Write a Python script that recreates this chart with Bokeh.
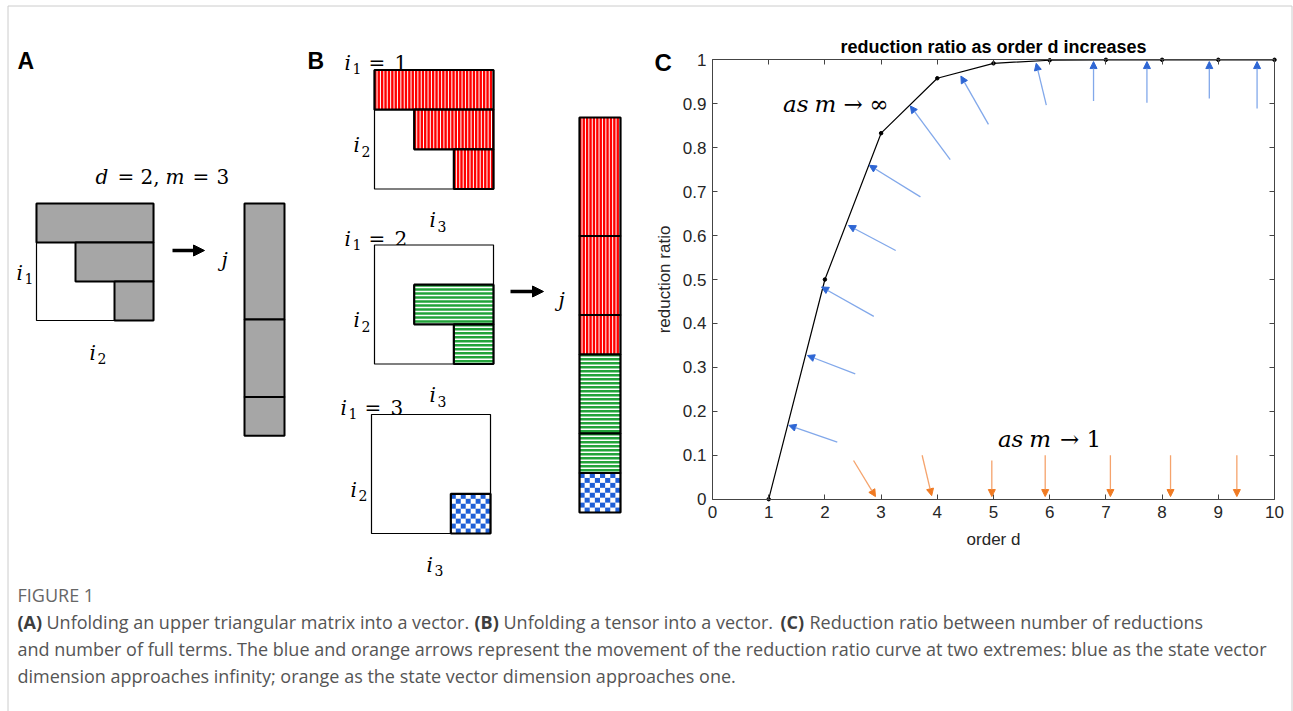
import numpy as np
from bokeh.plotting import figure
from bokeh.models import (Range1d, LinearAxis, FixedTicker, CustomJSTickFormatter,
                          Arrow, NormalHead, ColumnDataSource)
from bokeh.core.properties import value
from bokeh.embed import file_html
from bokeh.resources import INLINE

# ---------------- data: panel C ----------------
order_d = [1, 2, 3, 4, 5, 6, 7, 8, 9, 10]
reduction_ratio = [0.0, 0.5, 0.833, 0.958, 0.992, 0.999, 1.0, 1.0, 1.0, 1.0]
x_ticks = [0, 1, 2, 3, 4, 5, 6, 7, 8, 9, 10]
y_ticks = [0, 0.1, 0.2, 0.3, 0.4, 0.5, 0.6, 0.7, 0.8, 0.9, 1.0]

blue_x_start = [2.22, 2.54, 2.87, 3.26, 3.70, 4.23, 4.91, 5.94, 6.78, 7.73, 8.84, 9.69]
blue_y_start = [0.130, 0.285, 0.416, 0.566, 0.688, 0.773, 0.853, 0.897, 0.906, 0.902, 0.912, 0.889]
blue_x_end = [1.36, 1.69, 1.94, 2.42, 2.79, 3.52, 4.42, 5.76, 6.78, 7.73, 8.84, 9.69]
blue_y_end = [0.168, 0.327, 0.483, 0.623, 0.760, 0.895, 0.963, 0.992, 0.996, 0.996, 0.996, 0.996]

orange_x_start = [2.51, 3.73, 4.97, 5.92, 7.08, 8.15, 9.33]
orange_y_start = [0.088, 0.100, 0.088, 0.100, 0.100, 0.100, 0.100]
orange_x_end = [2.90, 3.90, 4.97, 5.92, 7.08, 8.15, 9.33]
orange_y_end = [0.006, 0.008, 0.006, 0.006, 0.006, 0.006, 0.006]

chart_title = "reduction ratio as order d increases"
x_label = "order d"
y_label = "reduction ratio"

# ---------------- data: panels A and B ----------------
a_row_cells = [3, 2, 1]                                  # d=2, m=3 upper triangle
b_slice_rows = [[3, 2, 1], [0, 2, 1], [0, 0, 1]]         # tensor slices i1 = 1,2,3
b_slice_names = ["1", "2", "3"]
b_colors = ["#ff0000", "#22a33a", "#1f5fd6"]

caption_head = "FIGURE 1"
caption_line1 = [("(A)", True), ("Unfolding an upper triangular matrix into a vector.", False),
                 ("(B)", True), ("Unfolding a tensor into a vector.", False),
                 ("(C)", True), ("Reduction ratio between number of reductions", False)]
caption_line2 = ("and number of full terms. The blue and orange arrows represent the movement "
                 "of the reduction ratio curve at two extremes: blue as the state vector")
caption_line3 = "dimension approaches infinity; orange as the state vector dimension approaches one."

MATH = "DejaVu Serif"
SANS = "Liberation Sans"
FRAME = "#cccccc"
W, H = 1293, 711

# panel C placement on the page (pixels)
C_X0, C_XUNIT = 712.0, 56.2      # page x of d=0, pixels per unit
C_Y0, C_YUNIT = 498.7, 439.4     # page y of ratio=0, pixels per unit

p = figure(width=W, height=H, x_range=Range1d(0, W), y_range=Range1d(H, 0),
           toolbar_location=None, output_backend="svg", min_border=0,
           x_axis_location=None, y_axis_location=None, outline_line_color=None,
           background_fill_color="white", border_fill_color="white")
p.grid.visible = False
p.extra_x_ranges = {"cx": Range1d(start=-C_X0 / C_XUNIT, end=(W - C_X0) / C_XUNIT)}
p.extra_y_ranges = {"cy": Range1d(start=(C_Y0 - H) / C_YUNIT, end=C_Y0 / C_YUNIT)}
CR = dict(x_range_name="cx", y_range_name="cy")


def txt(x, y, s, size, style="normal", font=MATH, color="black", align="left",
        baseline="alphabetic", **kw):
    p.text(x=[x], y=[y], text=[s], text_font=value(font), text_font_size=f"{size}px",
           text_font_style=style, text_color=color, text_align=align, text_baseline=baseline, **kw)


def ivar(x, y, sub, size=20):
    txt(x, y, "i", size, "italic")
    txt(x + 8, y + 6, sub, 14)


def box(l, r, t, b, fill=None, lw=1.2):
    p.quad(left=[l], right=[r], top=[t], bottom=[b], fill_color=fill,
           line_color="black", line_width=lw)


def vstripes(l, r, t, b, period=3.4):
    xs = np.arange(l + period * 0.75, r - 0.5, period)
    p.segment(x0=xs, x1=xs, y0=[t] * len(xs), y1=[b] * len(xs), line_color="white", line_width=1.0)


def hstripes(l, r, t, b, period=4.0):
    ys = np.arange(t + period * 0.7, b - 0.5, period)
    p.segment(x0=[l] * len(ys), x1=[r] * len(ys), y0=ys, y1=ys, line_color="white", line_width=1.5)


def checker(l, r, t, b, color, n=8):
    cw = (r - l) / n
    ch = (b - t) / n
    L, R, T, B = [], [], [], []
    for i in range(n):
        for j in range(n):
            if (i + j) % 2 == 0:
                L.append(l + i * cw); R.append(l + (i + 1) * cw)
                T.append(t + j * ch); B.append(t + (j + 1) * ch)
    p.quad(left=L, right=R, top=T, bottom=B, fill_color=color, line_color=None)


def hatched(l, r, t, b, k, lw=2.2):
    if k == 0:
        p.quad(left=[l], right=[r], top=[t], bottom=[b], fill_color=b_colors[0], line_color=None)
        vstripes(l, r, t, b)
    elif k == 1:
        p.quad(left=[l], right=[r], top=[t], bottom=[b], fill_color=b_colors[1], line_color=None)
        hstripes(l, r, t, b)
    else:
        p.quad(left=[l], right=[r], top=[t], bottom=[b], fill_color="white", line_color=None)
        checker(l, r, t, b, b_colors[2])
    box(l, r, t, b, None, lw)


# ================= card frame =================
p.segment(x0=[7.5, 7.5, 1291.5], y0=[5.5, 5.5, 5.5], x1=[1291.5, 7.5, 1291.5], y1=[5.5, H, H],
          line_color=FRAME, line_width=1)

# ================= panel labels =================
txt(17, 60, "A", 23, "bold", SANS)
txt(307, 60, "B", 23, "bold", SANS)
txt(654, 62, "C", 24, "bold", SANS)

# ================= panel A =================
for s, x, st in [("d", 95, "italic"), ("=", 117, "normal"), ("2,", 140, "normal"),
                 ("m", 165, "italic"), ("=", 192, "normal"), ("3", 216, "normal")]:
    txt(x, 176, s, 20, st)

ax0, ay0, acell = 36.0, 203.0, 39.0
n_a = len(a_row_cells)
box(ax0, ax0 + n_a * acell, ay0, ay0 + n_a * acell, "white", 1.2)
for r, n in enumerate(a_row_cells):
    box(ax0 + (n_a - n) * acell, ax0 + n_a * acell, ay0 + r * acell, ay0 + (r + 1) * acell,
        "#a6a6a6", 2.0)
ivar(16, 272, "1")
ivar(89, 352, "2")

p.add_layout(Arrow(end=NormalHead(size=11, fill_color="black", line_color="black"),
                   x_start=172, y_start=250, x_end=204, y_end=250, line_width=3.5, line_color="black"))
txt(221, 259, "j", 20, "italic")

vx0, vy, vcell = 244.0, 203.0, 38.7
for n in a_row_cells:
    box(vx0, vx0 + 40, vy, vy + n * vcell, "#a6a6a6", 2.0)
    vy += n * vcell

# ================= panel B =================
b_origins = [(374.0, 69.5), (374.0, 244.5), (371.0, 414.0)]
b_label_y = [62, 238, 407]
b_label_x = [344, 344, 340]
bcell = 39.67
for k, rows in enumerate(b_slice_rows):
    ox, oy = b_origins[k]
    lx, ly = b_label_x[k], b_label_y[k]
    ivar(lx, ly, "1")
    txt(lx + 24, ly, "=", 20)
    txt(lx + 50, ly, b_slice_names[k], 20)
    nn = len(rows)
    box(ox, ox + nn * bcell, oy, oy + nn * bcell, "white", 1.2)
    for r, n in enumerate(rows):
        if n > 0:
            hatched(ox + (nn - n) * bcell, ox + nn * bcell, oy + r * bcell, oy + (r + 1) * bcell, k)
    ivar(ox - 21, oy + 75, "2")
    ivar(ox + 55, oy + 150, "3")

p.add_layout(Arrow(end=NormalHead(size=11, fill_color="black", line_color="black"),
                   x_start=510, y_start=291, x_end=543, y_end=291, line_width=3.5, line_color="black"))
txt(558, 299, "j", 20, "italic")

bvx, bvy, bvc = 579.0, 117.0, 39.5
for k, rows in enumerate(b_slice_rows):
    for n in rows:
        if n > 0:
            hatched(bvx, bvx + 41, bvy, bvy + n * bvc, k)
            bvy += n * bvc

# ================= panel C =================
TXT = "#262626"
AXC = "#444444"
fmt = CustomJSTickFormatter(code="return (Math.round(tick*10)/10).toString();")


def c_axis(side, ticks, loc, bounds, label=None, show_labels=True):
    a = LinearAxis(x_range_name="cx", y_range_name="cy", fixed_location=loc, bounds=bounds,
                   ticker=FixedTicker(ticks=ticks), formatter=fmt,
                   major_tick_in=5, major_tick_out=0, minor_tick_in=0, minor_tick_out=0,
                   axis_line_color=AXC, major_tick_line_color=AXC,
                   major_label_text_font=SANS, major_label_text_font_size="17px",
                   major_label_text_color=TXT if show_labels else None)
    if label:
        a.axis_label = label
        a.axis_label_text_font = SANS
        a.axis_label_text_font_size = "17px"
        a.axis_label_text_font_style = "normal"
        a.axis_label_text_color = TXT
    p.add_layout(a, side)
    return a


xb = c_axis("below", x_ticks, 0, (0, 10), x_label)
xb.major_label_standoff = 7
xb.axis_label_standoff = 8
yl = c_axis("left", y_ticks, 0, (0, 1), y_label)
yl.major_label_standoff = 6
yl.axis_label_standoff = 6
c_axis("above", x_ticks, 1, (0, 10), None, False)
c_axis("right", y_ticks, 10, (0, 1), None, False)

p.line(order_d, reduction_ratio, line_color="black", line_width=1.2, **CR)
p.scatter(order_d, reduction_ratio, size=3.5, color="black", **CR)

blue_src = ColumnDataSource(dict(xs=blue_x_start, ys=blue_y_start, xe=blue_x_end, ye=blue_y_end))
p.add_layout(Arrow(end=NormalHead(size=7, fill_color="#2e66d4", line_color="#2e66d4", line_width=1),
                   x_start="xs", y_start="ys", x_end="xe", y_end="ye", source=blue_src,
                   line_color="#82a8ea", line_width=1.3, **CR))
orange_src = ColumnDataSource(dict(xs=orange_x_start, ys=orange_y_start, xe=orange_x_end, ye=orange_y_end))
p.add_layout(Arrow(end=NormalHead(size=7, fill_color="#f07a22", line_color="#f07a22", line_width=1),
                   x_start="xs", y_start="ys", x_end="xe", y_end="ye", source=orange_src,
                   line_color="#f5a36c", line_width=1.3, **CR))

# annotations "as m -> inf" and "as m -> 1" (page pixel positions)
for s, x, st in [("as", 782.6, "italic"), ("m", 814.0, "italic"),
                 ("\u2192", 843.0, "normal"), ("\u221e", 869.0, "normal")]:
    txt(x, 103.3, s, 23, st)
for s, x, st in [("as", 997.4, "italic"), ("m", 1028.8, "italic"),
                 ("\u2192", 1059.4, "normal"), ("1", 1086.0, "normal")]:
    txt(x, 438.3, s, 23, st)

txt(5.0, 1.028, chart_title, 18, "bold", SANS, "black", "center", "middle", **CR)

# ================= caption =================
CF = "Open Sans"
CS = 18
txt(17, 594, caption_head, 18, "normal", CF, "#666666", baseline="middle")
seg_x = [17, 46, 474, 503, 780, 809]
for (s, bold), x in zip(caption_line1, seg_x):
    txt(x, 621, s, CS, "bold" if bold else "normal", CF,
        "#3d3d3d" if bold else "#555555", baseline="middle")
txt(17, 648, caption_line2, CS, "normal", CF, "#555555", baseline="middle")
txt(17, 675, caption_line3, CS, "normal", CF, "#555555", baseline="middle")

with open("out.html", "w") as f:
    f.write(file_html(p, INLINE))
